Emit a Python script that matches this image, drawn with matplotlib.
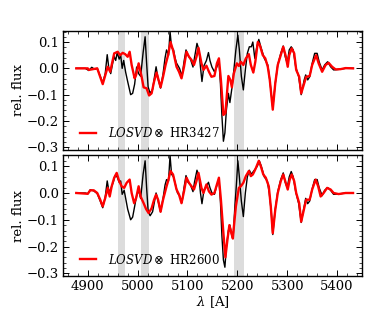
import numpy as np
import matplotlib
matplotlib.use('Agg')
import matplotlib.pyplot as plt
from matplotlib.ticker import MultipleLocator

# ---------------------------------------------------------------
# Data
# ---------------------------------------------------------------

# masked regions [A]
mask_lo = [4960, 5006, 5193]
mask_hi = [4975, 5023, 5213]

# top panel: model (LOSVD x HR3427)
wave_mod_top = [4877, 4900, 4902, 4919, 4930, 4940, 4945, 4953, 4960, 4965, 4970, 4975, 4980,
                4984, 4988, 4994, 4997, 5002, 5008, 5012, 5018, 5023, 5028, 5033, 5038, 5042,
                5046, 5051, 5056, 5061, 5066, 5071, 5078, 5083, 5088, 5093, 5098, 5103, 5108,
                5113, 5118, 5122, 5128, 5132, 5138, 5143, 5148, 5154, 5159, 5163, 5167, 5172,
                5176, 5182, 5186, 5189, 5193, 5199, 5203, 5207, 5212, 5217, 5223, 5227, 5232,
                5236, 5241, 5245, 5251, 5256, 5261, 5265, 5271, 5276, 5281, 5287, 5292, 5297,
                5301, 5304, 5309, 5314, 5318, 5324, 5328, 5334, 5338, 5345, 5350, 5358, 5363,
                5370, 5377, 5383, 5390, 5397, 5407, 5417, 5432]
flux_mod_top = [0.0, 0.0, -0.006, 0.0, -0.06, 0.006, -0.013, 0.057, 0.063, 0.05, 0.059, 0.054, 0.044,
                0.063, 0.013, -0.038, -0.025, 0.019, -0.032, -0.072, -0.076, -0.103, -0.095, -0.05,
                -0.016, -0.044, -0.072, -0.032, 0.013, 0.05, 0.1, 0.069, 0.006, -0.013, -0.038,
                0.006, 0.063, 0.044, 0.032, 0.013, 0.044, 0.078, 0.019, -0.006, 0.01, -0.013,
                -0.032, -0.029, 0.019, 0.038, -0.044, -0.177, -0.17, -0.029, -0.044, -0.072,
                -0.019, 0.019, 0.009, 0.025, 0.013, 0.038, 0.054, 0.013, -0.016, 0.025, 0.1,
                0.088, 0.05, 0.038, 0.006, -0.044, -0.157, -0.057, 0.013, 0.05, 0.082, 0.047,
                0.006, 0.05, 0.076, 0.057, -0.006, -0.032, -0.095, -0.057, -0.032, -0.029,
                0.013, 0.05, 0.019, -0.013, 0.013, 0.021, 0.006, -0.004, -0.003, 0.001, 0.0]

# top panel: observed spectrum
wave_obs_top = [4877, 4895, 4902, 4908, 4914, 4919, 4925, 4930, 4935, 4939, 4942, 4946, 4950, 4953,
                4956, 4959, 4963, 4966, 4969, 4972, 4976, 4980, 4986, 4990, 4994, 4998, 5002, 5006,
                5011, 5015, 5018, 5021, 5025, 5030, 5034, 5037, 5041, 5046, 5051, 5055, 5058, 5062,
                5065, 5068, 5072, 5075, 5078, 5084, 5089, 5093, 5097, 5101, 5106, 5111, 5114, 5119,
                5123, 5126, 5129, 5133, 5138, 5142, 5145, 5149, 5154, 5159, 5163, 5166, 5169, 5172,
                5175, 5178, 5182, 5185, 5189, 5193, 5197, 5201, 5204, 5208, 5212, 5216, 5220, 5224,
                5228, 5231, 5235, 5239, 5243, 5247, 5254, 5261, 5265, 5271, 5276, 5281, 5287, 5292,
                5296, 5300, 5304, 5308, 5312, 5317, 5323, 5328, 5334, 5337, 5341, 5345, 5350, 5355,
                5360, 5364, 5370, 5375, 5381, 5387, 5393, 5403, 5417, 5432]
flux_obs_top = [0.0, 0.0, -0.008, 0.004, -0.004, 0.0, -0.03, -0.055, -0.02, 0.052, 0.005, -0.02, 0.02,
                0.045, 0.03, 0.06, 0.035, 0.05, 0.0, 0.03, -0.015, -0.05, -0.1, -0.095, -0.06, 0.005,
                -0.02, -0.03, 0.06, 0.12, 0.02, -0.07, -0.095, -0.08, -0.03, 0.006, -0.04, -0.075,
                -0.02, 0.04, 0.07, 0.05, 0.14, 0.08, 0.07, 0.04, 0.02, 0.0, -0.03, 0.025, 0.07, 0.05,
                0.035, 0.005, 0.04, 0.095, 0.07, 0.005, -0.05, 0.01, 0.03, 0.06, 0.03, 0.005, -0.013,
                0.006, 0.03, -0.057, -0.18, -0.277, -0.245, -0.158, -0.095, -0.13, -0.076, -0.006,
                0.07, 0.126, 0.07, -0.03, -0.082, -0.006, 0.057, 0.082, 0.082, 0.1, 0.038, 0.082,
                0.11, 0.082, 0.038, 0.013, -0.044, -0.15, -0.057, 0.013, 0.057, 0.085, 0.044, 0.019,
                0.07, 0.082, 0.07, 0.006, -0.032, -0.1, -0.044, -0.025, -0.044, -0.032, 0.019, 0.057,
                0.057, 0.025, -0.006, 0.013, 0.025, 0.006, -0.006, -0.004, 0.0, 0.0]

# bottom panel: model (LOSVD x HR2600)
wave_mod_bot = [4877, 4900, 4905, 4912, 4919, 4925, 4930, 4935, 4940, 4944, 4948, 4953, 4958, 4963,
                4968, 4973, 4978, 4984, 4988, 4993, 4997, 5002, 5006, 5012, 5017, 5022, 5028, 5033,
                5037, 5041, 5046, 5051, 5058, 5061, 5066, 5071, 5078, 5083, 5088, 5093, 5098, 5103,
                5108, 5113, 5118, 5122, 5128, 5132, 5138, 5143, 5148, 5154, 5159, 5163, 5167, 5172,
                5176, 5180, 5184, 5188, 5191, 5193, 5197, 5203, 5207, 5212, 5217, 5223, 5227, 5231,
                5236, 5243, 5247, 5252, 5257, 5263, 5267, 5271, 5276, 5281, 5287, 5292, 5297, 5301,
                5305, 5309, 5314, 5318, 5324, 5328, 5334, 5338, 5345, 5350, 5357, 5362, 5367, 5373,
                5380, 5387, 5393, 5403, 5417, 5432]
flux_mod_bot = [0.0, -0.003, 0.01, 0.01, 0.0, -0.025, -0.05, -0.019, 0.019, -0.013, 0.025, 0.057,
                0.075, 0.044, 0.025, 0.019, 0.038, 0.05, 0.0, -0.038, -0.019, 0.025, -0.013, -0.038,
                -0.06, -0.075, -0.057, -0.025, -0.006, -0.025, -0.07, -0.025, 0.025, 0.044, 0.082,
                0.069, 0.013, -0.006, -0.038, 0.006, 0.057, 0.038, 0.025, 0.013, 0.044, 0.075, 0.019,
                0.0, 0.032, 0.006, -0.006, 0.0, 0.032, 0.057, -0.025, -0.15, -0.24, -0.176, -0.12,
                -0.15, -0.17, -0.126, -0.05, 0.019, 0.025, 0.038, 0.063, 0.082, 0.063, 0.069, 0.088,
                0.12, 0.1, 0.069, 0.057, 0.025, -0.05, -0.15, -0.063, 0.0, 0.044, 0.069, 0.038, 0.013,
                0.05, 0.069, 0.044, 0.0, -0.038, -0.107, -0.057, -0.025, -0.025, 0.013, 0.05, 0.025,
                -0.013, 0.0, 0.019, 0.013, 0.0, -0.004, 0.0, 0.0]

# bottom panel: observed spectrum
wave_obs_bot = [4877, 4895, 4900, 4905, 4912, 4919, 4925, 4930, 4935, 4939, 4943, 4947, 4951, 4955,
                4959, 4963, 4966, 4969, 4973, 4976, 4980, 4986, 4990, 4994, 4998, 5002, 5006, 5011,
                5015, 5018, 5021, 5025, 5030, 5034, 5037, 5041, 5046, 5051, 5055, 5058, 5062, 5065,
                5068, 5072, 5076, 5080, 5084, 5089, 5093, 5097, 5101, 5106, 5111, 5114, 5119, 5123,
                5126, 5129, 5133, 5138, 5142, 5145, 5149, 5154, 5159, 5163, 5166, 5169, 5172, 5175,
                5178, 5182, 5185, 5189, 5192, 5195, 5198, 5201, 5204, 5208, 5212, 5216, 5220, 5224,
                5228, 5232, 5236, 5240, 5244, 5248, 5254, 5260, 5264, 5268, 5271, 5276, 5281, 5287,
                5292, 5296, 5300, 5304, 5308, 5312, 5317, 5323, 5328, 5334, 5337, 5341, 5345, 5350,
                5355, 5360, 5364, 5370, 5375, 5381, 5387, 5393, 5403, 5417, 5432]
flux_obs_bot = [0.0, 0.0, -0.003, 0.012, 0.008, -0.002, -0.03, -0.055, -0.015, 0.045, 0.0, 0.02, 0.04,
                0.065, 0.06, 0.04, 0.045, -0.005, 0.01, -0.02, -0.06, -0.1, -0.09, -0.05, -0.01, 0.01,
                -0.02, 0.07, 0.12, 0.02, -0.065, -0.085, -0.07, -0.03, 0.0, -0.03, -0.07, -0.02, 0.03,
                0.05, 0.045, 0.14, 0.07, 0.06, 0.03, 0.0, -0.01, -0.035, 0.02, 0.065, 0.04, 0.03,
                0.005, 0.04, 0.085, 0.06, 0.0, -0.04, 0.01, 0.025, 0.04, 0.02, 0.0, -0.005, 0.03, 0.05,
                -0.03, -0.16, -0.25, -0.277, -0.2, -0.14, -0.12, -0.16, -0.15, -0.05, 0.03, 0.12, 0.06,
                -0.03, -0.088, 0.0, 0.06, 0.085, 0.07, 0.08, 0.09, 0.1, 0.12, 0.1, 0.06, 0.045, 0.0,
                -0.07, -0.155, -0.06, 0.005, 0.05, 0.075, 0.04, 0.02, 0.06, 0.08, 0.06, 0.005, -0.04,
                -0.11, -0.05, -0.02, -0.04, -0.03, 0.015, 0.05, 0.05, 0.02, -0.01, 0.01, 0.02, 0.01,
                -0.005, -0.004, 0.0, 0.0]

templates = ['HR3427', 'HR2600']

# ---------------------------------------------------------------
# Plot
# ---------------------------------------------------------------

plt.rcParams['font.family'] = 'DejaVu Serif'
plt.rcParams['mathtext.fontset'] = 'dejavuserif'

fig = plt.figure(figsize=(3.74, 3.13), dpi=100)
ax_top = fig.add_axes([0.168, 0.521, 0.800, 0.380])
ax_bot = fig.add_axes([0.168, 0.118, 0.800, 0.387])

panels = [
    (ax_top, wave_obs_top, flux_obs_top, wave_mod_top, flux_mod_top, templates[0]),
    (ax_bot, wave_obs_bot, flux_obs_bot, wave_mod_bot, flux_mod_bot, templates[1]),
]

for ax, wo, fo, wm, fm, name in panels:
    for lo, hi in zip(mask_lo, mask_hi):
        ax.axvspan(lo, hi, color='#dcdcdc', lw=0, zorder=0)
    ax.plot(wo, fo, color='black', lw=1.0, zorder=2)
    ax.plot(wm, fm, color='red', lw=1.7, zorder=3,
            label=r'$LOSVD\otimes$ ' + name)
    ax.set_xlim(4850, 5450)
    ax.set_ylim(-0.31, 0.142)
    ax.set_yticks([-0.3, -0.2, -0.1, 0.0, 0.1])
    ax.xaxis.set_major_locator(MultipleLocator(100))
    ax.xaxis.set_minor_locator(MultipleLocator(20))
    ax.yaxis.set_minor_locator(MultipleLocator(0.02))
    ax.tick_params(which='both', direction='in', top=True, right=True, labelsize=9.5, pad=3)
    ax.tick_params(which='major', length=4, width=0.7)
    ax.tick_params(which='minor', length=2, width=0.5)
    for sp in ax.spines.values():
        sp.set_linewidth(1.0)
    ax.set_ylabel('rel. flux', fontsize=9.5, labelpad=1)
    ax.legend(loc='lower left', frameon=False, fontsize=8.5, handlelength=1.3,
              handletextpad=1.0, borderaxespad=0.2, bbox_to_anchor=(0.035, 0.02))

ax_top.tick_params(labelbottom=False)
ax_bot.set_xlabel(r'$\lambda$ [A]', fontsize=9.5, labelpad=1)

fig.savefig('out.png', dpi=100)
